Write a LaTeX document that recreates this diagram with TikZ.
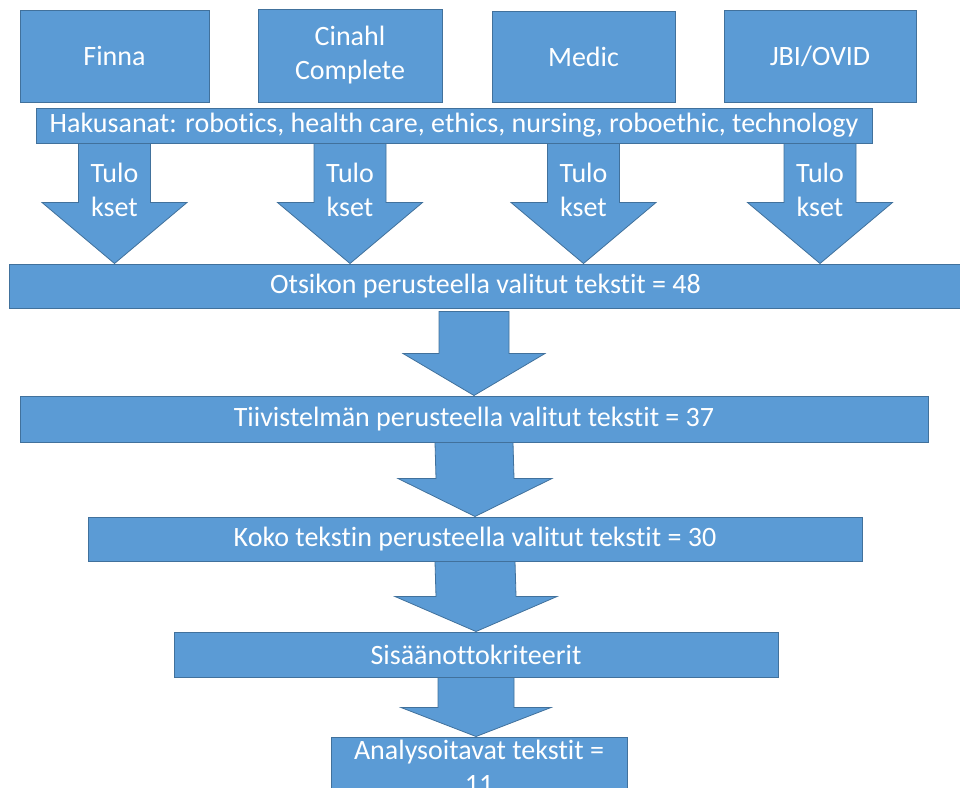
\documentclass[tikz,border=0pt]{standalone}
\usepackage{fontspec}
\setmainfont{Carlito}[Ligatures=NoCommon]
\usetikzlibrary{calc}
\definecolor{boxblue}{HTML}{5B9BD5}
\definecolor{boxline}{HTML}{41719C}
% block arrow: start, tip, shaft half width, head half width, head length
\newcommand{\blockarrow}[5]{%
  \filldraw[flowarrow] ($(#1)+(-#3,0)$) -- ($(#2)+(-#3,-#5)$) -- ($(#2)+(-#4,-#5)$) -- (#2)
    -- ($(#2)+(#4,-#5)$) -- ($(#2)+(#3,-#5)$) -- ($(#1)+(#3,0)$) -- cycle;}
\begin{document}
\begin{tikzpicture}[x=1pt,y=-1pt]
		\tikzstyle{block} = [rectangle,draw=boxline,fill=boxblue,line width=1pt,text=white,align=center,inner sep=0pt,font=\fontsize{28}{34}\selectfont]
		\tikzstyle{flowarrow} = [draw=boxline,fill=boxblue,line width=0.8pt]
		\tikzstyle{label} = [text=white,align=center,inner sep=0pt,font=\fontsize{28}{34}\selectfont]
		\useasboundingbox (0,0) rectangle (960,787);
		\clip (0,0) rectangle (960,787);
		\node[block,minimum width=189,minimum height=92]at (114.5,56)(finna){Finna};
		\node[block,minimum width=184,minimum height=93]at (350,55.5)(cinahl){Cinahl\\Complete};
		\node[block,minimum width=183,minimum height=91]at (583.5,56.5)(medic){Medic};
		\node[block,minimum width=192,minimum height=92]at (820,56)(jbi){JBI/OVID};
		\node[block,minimum width=836,minimum height=35]at (454,125.5)(hakusanat){Hakusanat: robotics, health care, ethics, nursing, roboethic, technology};
		\node[block,minimum width=953,minimum height=44]at (485.5,286)(otsikko){Otsikon perusteella valitut tekstit = 48};
		\node[block,minimum width=908,minimum height=46]at (474,419)(tiivistelma){Tiivistelmän perusteella valitut tekstit = 37};
		\node[block,minimum width=774,minimum height=44]at (475,539)(koko){Koko tekstin perusteella valitut tekstit = 30};
		\node[block,minimum width=604,minimum height=45]at (476,654.5)(kriteerit){Sisäänottokriteerit};
		\node[block,minimum width=296,minimum height=60]at (479,767)(analyysi){Analysoitavat tekstit =\\11};
		% tulokset from each database
		\foreach \db/\n in {finna/1,cinahl/2,medic/3,jbi/4}{
			\blockarrow{hakusanat.south -| \db.south}{otsikko.north -| \db.south}{36}{72.5}{61}
			\node[label]at ($(hakusanat.south -| \db.south)+(0,46)$)(tulokset\n){Tulo\\kset};
		}
		\blockarrow{$(otsikko.south -| tiivistelma.north)+(0,3)$}{tiivistelma.north}{35}{71}{42}
		\blockarrow{tiivistelma.south}{koko.north}{39}{77}{38}
		\blockarrow{koko.south}{kriteerit.north}{40}{81}{35}
		\blockarrow{kriteerit.south}{analyysi.north -| kriteerit.south}{38}{75}{29}
		\end{tikzpicture}
\end{document}
